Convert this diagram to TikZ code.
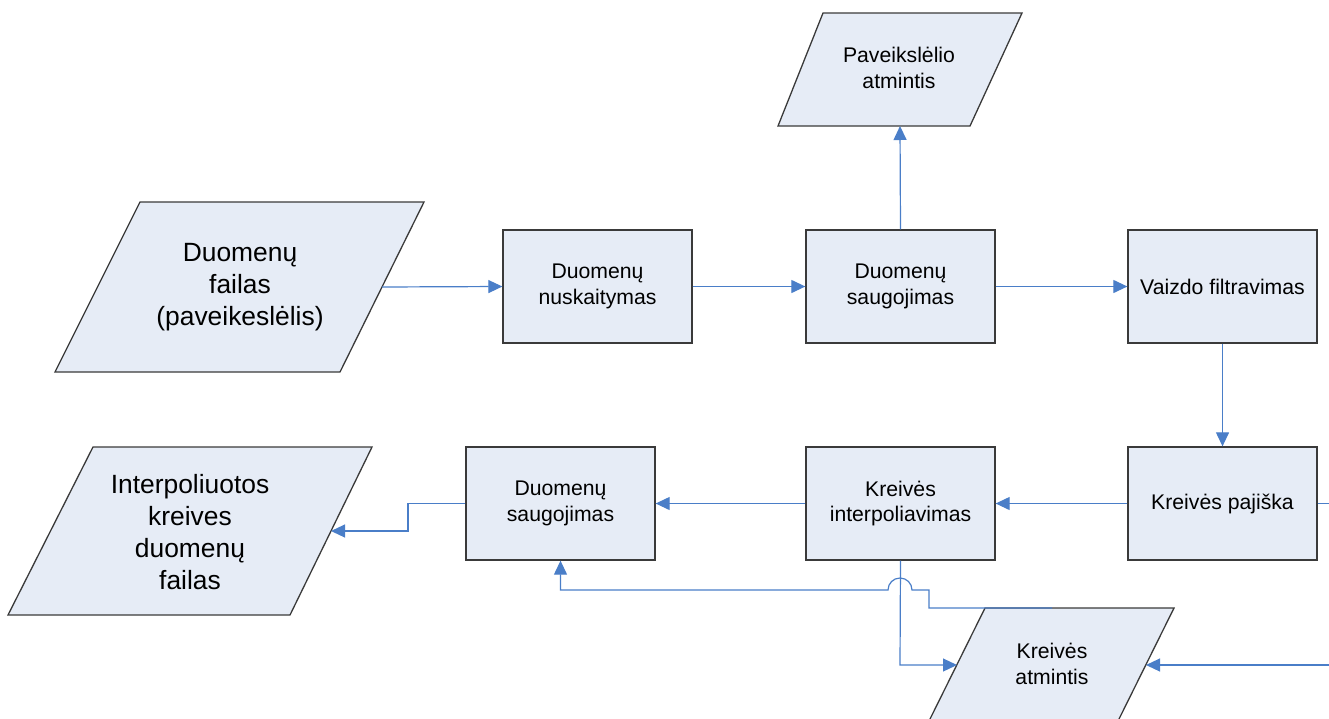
\documentclass[tikz,border=0pt]{standalone}
\usepackage{fontspec}
\setmainfont{Liberation Sans}
\usetikzlibrary{arrows.meta,calc}
\definecolor{boxfill}{HTML}{E6ECF6}
\definecolor{flow}{HTML}{4A7EC8}
\definecolor{edgecol}{HTML}{3A3A3A}
\tikzset{
  proc/.style={draw=edgecol, line width=1.3pt, fill=boxfill, minimum width=189pt,
    minimum height=113pt, align=center, inner sep=0pt,
    font=\fontsize{21.2}{25.5}\selectfont},
  iobox/.style={draw=edgecol, line width=1.3pt, fill=boxfill},
  iosmall/.style={align=center, font=\fontsize{21.2}{25.5}\selectfont},
  iobig/.style={align=center, font=\fontsize{26.4}{32}\selectfont},
  conn/.style={draw=flow, line width=1.2pt, -{Triangle[length=14pt,width=13pt]}},
}
\begin{document}
\begin{tikzpicture}[x=1pt,y=-1pt]
\useasboundingbox (0,0) rectangle (1329,718);
\clip (0,0) rectangle (1329,718);

% data (parallelogram) shapes
\filldraw[iobox] (823,13) -- (1022,13) -- (970,126) -- (778,126) -- cycle;
\node[iosmall] (pav) at (899,68) {Paveikslėlio\\atmintis};
\coordinate (pav-b) at (900,126);

\filldraw[iobox] (140,202) -- (424,202) -- (340,372) -- (55,372) -- cycle;
\node[iobig] (dfile) at (240,287) {Duomenų\\failas\\(paveikeslėlis)};
\coordinate (dfile-r) at (382,287);

\filldraw[iobox] (93,447) -- (372,447) -- (290,615) -- (8,615) -- cycle;
\node[iobig] (ipf) at (190,532) {Interpoliuotos\\kreives\\duomenų\\failas};
\coordinate (ipf-r) at (331,531);

\filldraw[iobox] (985,608) -- (1174,608) -- (1118,721) -- (929,721) -- cycle;
\node[iosmall] (kat) at (1052,664) {Kreivės\\atmintis};
\coordinate (kat-t) at (1052,608);
\coordinate (kat-l) at (957,665);
\coordinate (kat-r) at (1146,665);

% process boxes
\node[proc] (read)   at (597.5,286.5)  {Duomenų\\nuskaitymas};
\node[proc] (store1) at (900.5,286.5)  {Duomenų\\saugojimas};
\node[proc] (filt)   at (1222.5,286.5) {Vaizdo filtravimas};
\node[proc] (curve)  at (1222.5,503.5) {Kreivės pajiška};
\node[proc] (interp) at (900.5,503.5)  {Kreivės\\interpoliavimas};
\node[proc] (store2) at (560.5,503.5)  {Duomenų\\saugojimas};

% connectors
\draw[conn] (dfile-r) -- (read.west);
\draw[conn] (read.east) -- (store1.west);
\draw[conn] (store1.east) -- (filt.west);
\draw[conn] (store1.north) -- (pav-b);
\draw[conn] (filt.south) -- (curve.north);
\draw[conn] (curve.west) -- (interp.east);
\draw[conn] (interp.west) -- (store2.east);
\draw[conn] (store2.west) -- (408,503.5) -- (408,531) -- (ipf-r);
\draw[conn] (interp.south) -- (900,665) -- (kat-l);
\draw[conn] (curve.east) -- (1345,503.5) -- (1345,665) -- (kat-r);
\draw[conn] (kat-t) -- (929,608) -- (929,590) -- (912,590)
  arc[start angle=0, end angle=180, radius=12pt]
  -- (store2.south |- 0,590) -- (store2.south);
\end{tikzpicture}
\end{document}
